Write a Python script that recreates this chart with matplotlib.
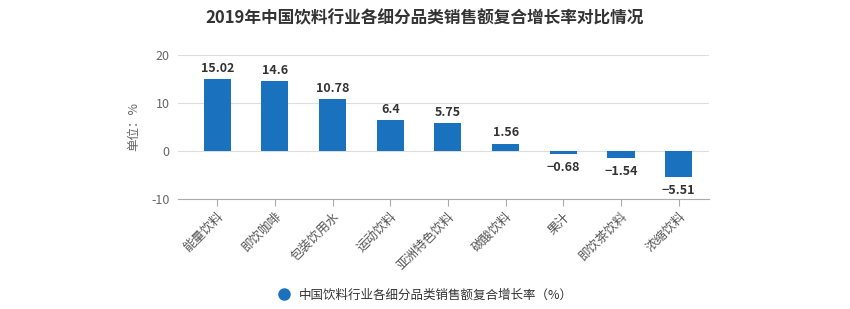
import matplotlib.pyplot as plt

plt.rcParams['font.family'] = ['Noto Sans CJK SC', 'DejaVu Sans']

categories = ['能量饮料', '即饮咖啡', '包装饮用水', '运动饮料', '亚洲特色饮料',
              '碳酸饮料', '果汁', '即饮茶饮料', '浓缩饮料']
values = [15.02, 14.6, 10.78, 6.4, 5.75, 1.56, -0.68, -1.54, -5.51]
labels = ['15.02', '14.6', '10.78', '6.4', '5.75', '1.56', '−0.68', '−1.54', '−5.51']
yticks = [-10, 0, 10, 20]

fig = plt.figure(figsize=(8.5, 3.09), dpi=100)
ax = fig.add_axes([0.2094, 0.356, 0.625, 0.466])

for s in ['top', 'right', 'left']:
    ax.spines[s].set_visible(False)
ax.spines['bottom'].set_color('#aaaaaa')

x = range(len(categories))
bars = ax.bar(x, values, width=0.47, color='#1a72bf', zorder=3)

# value labels above positive bars, below negative ones
for b, v, t in zip(bars, values, labels):
    if v >= 0:
        ax.annotate(t, (b.get_x() + b.get_width() / 2, v), xytext=(0, 3),
                    textcoords='offset points', ha='center', va='bottom',
                    fontsize=9, fontweight='bold', color='#333333')
    else:
        ax.annotate(t, (b.get_x() + b.get_width() / 2, v), xytext=(0, -5),
                    textcoords='offset points', ha='center', va='top',
                    fontsize=9, fontweight='bold', color='#333333')

ax.set_xlim(-0.68, 8.53)
ax.set_ylim(-10, 20)
ax.set_yticks(yticks)
ax.set_yticklabels([str(v) for v in yticks], fontsize=9, color='#666666')
ax.tick_params(axis='y', length=0, pad=6)
ax.yaxis.grid(True, color='#dddddd', linewidth=0.8, zorder=0)

ax.set_xticks(list(x))
ax.set_xticklabels(categories, fontsize=9, color='#555555', rotation=45,
                   ha='right', rotation_mode='anchor')
ax.tick_params(axis='x', length=5, color='#aaaaaa', pad=3)

ax.set_ylabel('单位：%', fontsize=9, color='#666666', labelpad=8)

fig.text(0.5, 0.94, '2019年中国饮料行业各细分品类销售额复合增长率对比情况',
         ha='center', va='center', fontsize=12, fontweight='bold', color='#333333')

fig.legend(handles=[plt.Line2D([], [], marker='o', linestyle='none',
                               markersize=8, color='#1a72bf')],
           labels=['中国饮料行业各细分品类销售额复合增长率（%）'],
           loc='center', bbox_to_anchor=(0.497, 0.045), frameon=False,
           fontsize=9, handletextpad=0.2, labelcolor='#333333')

fig.savefig('out.png', dpi=100)
